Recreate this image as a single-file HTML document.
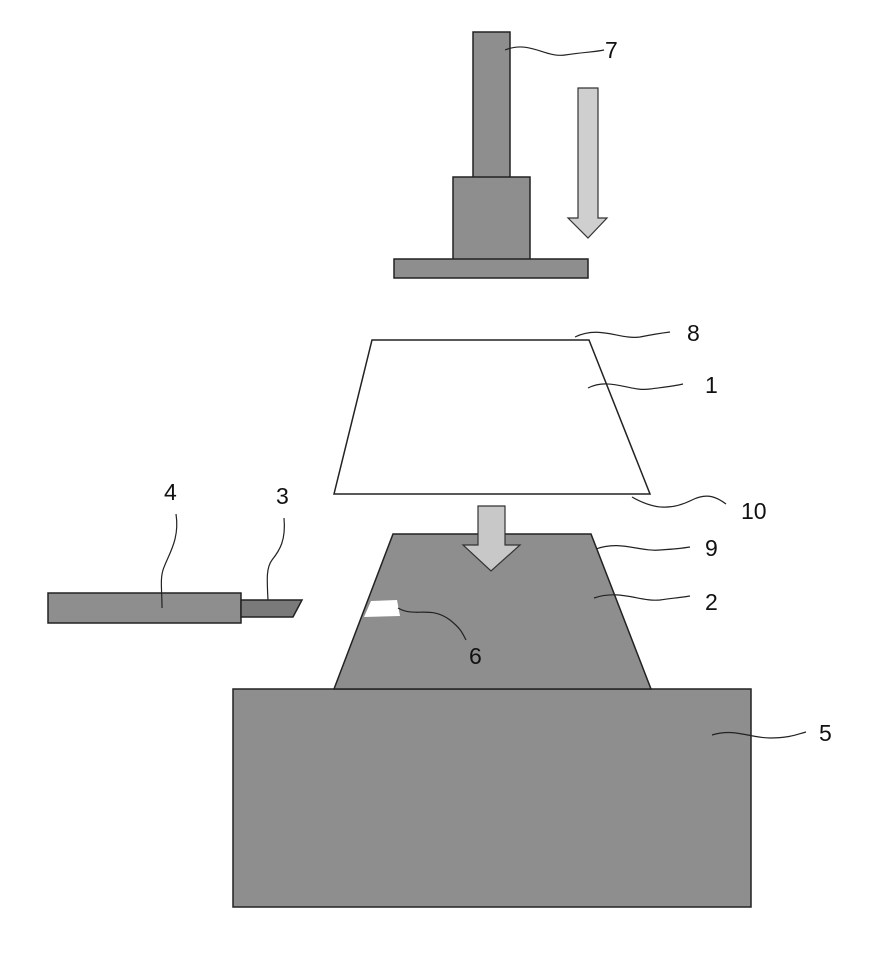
<!DOCTYPE html>
<html><head><meta charset="utf-8"><style>
html,body{margin:0;padding:0;background:#fff;}
svg{display:block;}
text{font-family:"Liberation Sans",Arial,sans-serif;font-size:23px;fill:#111;}
</style></head><body>
<svg width="879" height="962" viewBox="0 0 879 962" xmlns="http://www.w3.org/2000/svg">
<g stroke="#222" stroke-width="1.5" fill="#8e8e8e">
  <!-- press 7 -->
  <rect x="473" y="32" width="37" height="146"/>
  <rect x="453" y="177" width="77" height="83"/>
  <rect x="394" y="259" width="194" height="19"/>
  <!-- block 5 -->
  <rect x="233" y="689" width="518" height="218"/>
  <!-- trapezoid 2 -->
  <polygon points="393,534 591,534 651,689 334,689"/>
  <!-- bar 4 -->
  <rect x="48" y="593" width="193" height="30"/>
  <!-- bit 3 -->
  <polygon points="241,600 302,600 293,617 241,617" fill="#7a7a7a"/>
</g>
<!-- trapezoid 1 -->
<polygon points="372,340 589,340 650,494 334,494" fill="#fff" stroke="#222" stroke-width="1.5"/>
<!-- arrows -->
<polygon points="578,88 598,88 598,218 607,218 588,238 568,218 578,218" fill="#cfcfcf" stroke="#333" stroke-width="1.2"/>
<polygon points="478,506 505,506 505,545 520,545 491,571 463,545 478,545" fill="#c8c8c8" stroke="#333" stroke-width="1.2"/>
<!-- notch 6 -->
<polygon points="371,601 397,600 400,616 364,617" fill="#fff"/>
<!-- leaders -->
<g fill="none" stroke="#222" stroke-width="1.2">
  <path d="M505,50 C530,40 545,58 565,55 C585,52 595,52 604,50"/>
  <path d="M575,337 C600,325 620,340 640,337 C655,334 662,333 670,332"/>
  <path d="M588,388 C610,377 630,392 650,389 C665,387 675,386 683,384"/>
  <path d="M632,497 C655,510 672,510 692,500 C708,492 718,498 726,504"/>
  <path d="M596,549 C620,540 640,552 660,550 C675,549 684,548 690,547"/>
  <path d="M594,598 C620,589 640,602 660,600 C675,598 684,597 690,596"/>
  <path d="M712,735 C735,728 750,738 770,738 C790,738 798,734 806,732"/>
  <path d="M176,514 C180,540 168,555 163,570 C160,580 162,590 162,608"/>
  <path d="M284,518 C286,540 280,550 272,560 C266,568 267,580 268,600"/>
  <path d="M398,608 C415,618 430,605 450,620 C460,628 462,632 466,640"/>
</g>
<!-- labels -->
<text x="605" y="58">7</text>
<text x="687" y="341">8</text>
<text x="705" y="393">1</text>
<text x="741" y="519">10</text>
<text x="705" y="556">9</text>
<text x="705" y="610">2</text>
<text x="469" y="664">6</text>
<text x="819" y="741">5</text>
<text x="164" y="500">4</text>
<text x="276" y="504">3</text>
</svg>
</body></html>
